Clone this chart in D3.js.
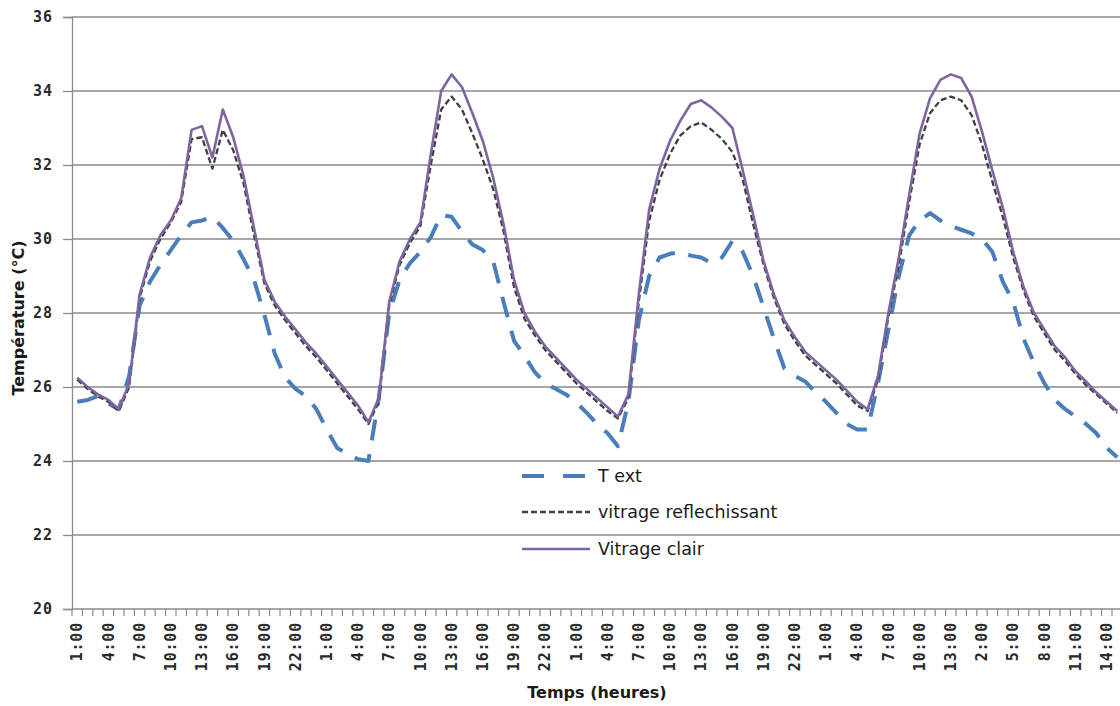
<!DOCTYPE html>
<html><head><meta charset="utf-8">
<script src="https://cdn.jsdelivr.net/npm/d3@7"></script>
<style>body{margin:0;background:#fff}svg{display:block}</style>
</head><body><svg id="c" width="1120" height="706"></svg>
<script>
// ---- data ----
const tickLabels = ["1:00","4:00","7:00","10:00","13:00","16:00","19:00","22:00",
  "1:00","4:00","7:00","10:00","13:00","16:00","19:00","22:00",
  "1:00","4:00","7:00","10:00","13:00","16:00","19:00","22:00",
  "1:00","4:00","7:00","10:00","13:00","2:00","5:00","8:00","11:00","14:00"];
const yTicks = [20,22,24,26,28,30,32,34,36];
const seriesNames = ["T ext","vitrage reflechissant","Vitrage clair"];
const tExt = [25.6,25.65,25.75,25.55,25.4,26.3,28.2,28.85,29.3,29.7,30.1,30.45,30.5,30.6,30.3,29.95,29.45,28.9,27.95,26.9,26.25,25.95,25.75,25.4,24.85,24.35,24.2,24.05,24.0,
  25.7,28.0,28.9,29.35,29.65,30.05,30.65,30.6,30.2,29.85,29.7,29.4,28.3,27.25,26.85,26.4,26.1,25.95,25.8,25.58,25.3,25.0,24.75,24.4,
  25.6,27.8,29.0,29.5,29.6,29.65,29.55,29.5,29.35,29.5,29.95,29.65,29.0,28.15,27.3,26.5,26.3,26.15,25.85,25.6,25.3,25.0,24.85,24.85,
  26.1,27.55,29.0,30.1,30.5,30.7,30.5,30.35,30.25,30.15,30.0,29.65,28.85,28.3,27.3,26.65,26.1,25.65,25.4,25.2,25.0,24.75,24.35,24.1];
const vitrageReflechissant = [26.2,25.95,25.75,25.6,25.35,26.0,28.4,29.4,30.0,30.45,31.0,32.7,32.75,31.9,32.95,32.4,31.5,30.1,28.8,28.2,27.8,27.45,27.1,26.8,26.45,26.1,25.75,25.4,25.0,
  25.6,28.2,29.3,29.9,30.35,32.0,33.5,33.85,33.5,32.85,32.15,31.35,30.2,28.7,27.85,27.4,27.0,26.7,26.4,26.1,25.85,25.6,25.35,25.15,
  25.7,28.3,30.5,31.6,32.3,32.8,33.05,33.15,32.95,32.7,32.35,31.6,30.4,29.3,28.4,27.7,27.25,26.85,26.6,26.35,26.1,25.8,25.5,25.35,
  26.2,27.9,29.3,31.0,32.55,33.4,33.75,33.85,33.75,33.35,32.55,31.55,30.6,29.5,28.6,27.9,27.45,27.0,26.7,26.35,26.05,25.8,25.55,25.3];
const vitrageClair = [26.25,26.0,25.8,25.65,25.4,26.1,28.5,29.5,30.1,30.5,31.1,32.95,33.05,32.2,33.5,32.75,31.7,30.3,28.9,28.3,27.9,27.55,27.2,26.9,26.55,26.2,25.85,25.5,25.05,
  25.7,28.3,29.4,30.0,30.45,32.3,34.0,34.45,34.1,33.4,32.65,31.65,30.4,28.9,28.0,27.5,27.1,26.8,26.5,26.2,25.95,25.7,25.45,25.2,
  25.8,28.5,30.8,31.9,32.65,33.2,33.65,33.75,33.55,33.3,33.0,31.85,30.65,29.4,28.5,27.8,27.35,26.95,26.7,26.45,26.2,25.9,25.6,25.4,
  26.3,28.0,29.5,31.2,32.85,33.8,34.3,34.45,34.35,33.85,32.9,31.85,30.85,29.65,28.7,28.0,27.55,27.1,26.8,26.42,26.15,25.85,25.6,25.35];

// ---- layout ----
const svg = d3.select("#c");
const plotLeft = 72, plotTop = 17, plotBottom = 609, catW = 10.4;
const N = tExt.length;
const x = d3.scaleBand().domain(d3.range(N)).range([plotLeft, plotLeft + N * catW]).padding(0);
const y = d3.scaleLinear().domain([20, 36]).range([plotBottom, plotTop]);
const plotRight = plotLeft + N * catW;
const gridCol = "#8a8a8a";

// gridlines
svg.append("g").selectAll("line").data(yTicks.filter(v => v > 20)).join("line")
  .attr("x1", plotLeft).attr("x2", plotRight).attr("y1", d => y(d)).attr("y2", d => y(d))
  .attr("stroke", gridCol).attr("stroke-width", 1.3);

// y axis
const yAxis = svg.append("g").attr("transform", `translate(${plotLeft},0)`)
  .call(d3.axisLeft(y).tickValues(yTicks).tickSize(9).tickPadding(10).tickFormat(d3.format("d")));
yAxis.select(".domain").attr("stroke", gridCol).attr("stroke-width", 1.3);
yAxis.selectAll(".tick line").attr("stroke", gridCol).attr("stroke-width", 1.3);
yAxis.selectAll(".tick text").attr("font-family", "DejaVu Sans Mono").attr("font-size", 15)
  .attr("font-weight", "bold").attr("letter-spacing", 1).attr("fill", "#2a2a2a");

// x axis
const xg = svg.append("g");
xg.append("line").attr("x1", plotLeft).attr("x2", plotRight).attr("y1", plotBottom).attr("y2", plotBottom)
  .attr("stroke", gridCol).attr("stroke-width", 1.3);
xg.selectAll("line.tk").data(d3.range(N + 1)).join("line").attr("class", "tk")
  .attr("x1", i => i < N ? x(i) : plotRight).attr("x2", i => i < N ? x(i) : plotRight)
  .attr("y1", plotBottom).attr("y2", plotBottom + 7)
  .attr("stroke", gridCol).attr("stroke-width", 1.2);
xg.selectAll("text").data(tickLabels).join("text")
  .attr("transform", (d, k) => `translate(${x(k * 3) + x.bandwidth() / 2},${plotBottom + 13}) rotate(-90)`)
  .attr("text-anchor", "end").attr("dy", "0.35em")
  .attr("font-family", "DejaVu Sans Mono").attr("font-size", 15).attr("font-weight", "bold")
  .attr("letter-spacing", 0.8).attr("fill", "#2a2a2a").text(d => d);

// axis titles
svg.append("text").attr("transform", "translate(24,318) rotate(-90)").attr("text-anchor", "middle")
  .attr("font-family", "DejaVu Sans").attr("font-weight", "bold").attr("font-size", 16)
  .attr("fill", "#1a1a1a").text("Température (°C)");
svg.append("text").attr("x", 597).attr("y", 698).attr("text-anchor", "middle")
  .attr("font-family", "DejaVu Sans").attr("font-weight", "bold").attr("font-size", 16)
  .attr("fill", "#1a1a1a").text("Temps (heures)");

// series
const styles = [
  {data: tExt, color: "#4a7ebb", width: 4, dash: "21,14"},
  {data: vitrageReflechissant, color: "#404040", width: 2.3, dash: "6,3"},
  {data: vitrageClair, color: "#7e64a0", width: 2.6, dash: null}
];
const line = d3.line().x((d, i) => x(i) + x.bandwidth() / 2).y(d => y(d));
styles.forEach(s => {
  svg.append("path").datum(s.data).attr("d", line).attr("fill", "none")
    .attr("stroke", s.color).attr("stroke-width", s.width)
    .attr("stroke-linejoin", "round")
    .attr("stroke-dasharray", s.dash);
});

// legend
const legY = [476, 512, 549];
const lg = svg.append("g");
styles.forEach((s, k) => {
  lg.append("line").attr("x1", 522).attr("x2", 590).attr("y1", legY[k]).attr("y2", legY[k])
    .attr("stroke", s.color).attr("stroke-width", s.width).attr("stroke-dasharray", k === 0 ? "22,19" : s.dash);
  lg.append("text").attr("x", 598).attr("y", legY[k]).attr("dy", "0.35em")
    .attr("font-family", "DejaVu Sans").attr("font-size", 17.5).attr("fill", "#1a1a1a")
    .text(seriesNames[k]);
});
</script>
</body></html>
